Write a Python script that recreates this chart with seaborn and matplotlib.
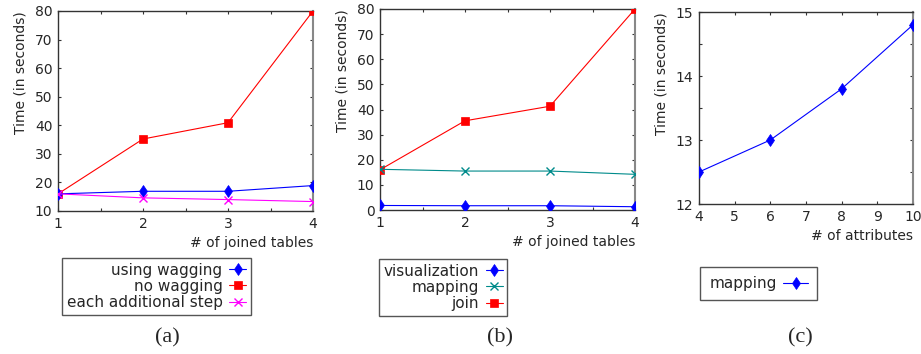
import matplotlib
matplotlib.use("Agg")
import matplotlib.pyplot as plt
import seaborn as sns
from matplotlib.ticker import MultipleLocator

# ---- data ----
tables = [1, 2, 3, 4]
a_using_wagging = [16.0, 16.9, 16.9, 18.9]
a_no_wagging = [16.0, 35.2, 40.9, 80.0]
a_each_step = [16.0, 14.6, 14.0, 13.3]

b_visualization = [1.8, 1.7, 1.7, 1.3]
b_mapping = [16.2, 15.5, 15.5, 14.2]
b_join = [16.0, 35.5, 41.3, 80.0]

attributes = [4, 6, 8, 10]
c_mapping = [12.5, 13.0, 13.8, 14.8]

panel_labels = ["(a)", "(b)", "(c)"]

sns.set_style("ticks")
plt.rcParams["font.family"] = ["DejaVu Sans"]

W, H = 921, 354
fig = plt.figure(figsize=(W / 100, H / 100), dpi=100)


def add_ax(l, t, r, b):
    return fig.add_axes([l / W, 1 - b / H, (r - l) / W, (b - t) / H])


def style_ax(ax, xlabel):
    for s in ["left", "bottom", "top"]:
        ax.spines[s].set_color("#333333")
        ax.spines[s].set_linewidth(1.0)
    ax.spines["right"].set_color("#888888")
    ax.spines["right"].set_linewidth(1.5)
    ax.tick_params(which="both", direction="in", top=True, right=True,
                   length=2.5, width=0.8, color="#333333", labelsize=10,
                   pad=4)
    ax.set_ylabel("Time (in seconds)", fontsize=10, labelpad=5, loc="top")
    ax.set_xlabel(xlabel, loc="right", fontsize=10, labelpad=4)


def legend_at(handles, labels, l, t, fs=11, hl=1.1, bp=0.3):
    leg = fig.legend(handles, labels, loc="upper left",
                     bbox_to_anchor=(l / W, 1 - t / H), borderaxespad=0,
                     markerfirst=False, fancybox=False, framealpha=1,
                     edgecolor="#555555", fontsize=fs, labelspacing=0.08,
                     handlelength=hl, handletextpad=0.45, borderpad=bp)
    leg.get_frame().set_linewidth(1.0)
    return leg


def line(ax, x, y, color, marker, ms, label, mew=0.5, z=3):
    sns.lineplot(x=x, y=y, ax=ax, color=color, marker=marker, markersize=ms,
                 markeredgewidth=mew, markeredgecolor=color,
                 markerfacecolor=color, linewidth=0.8, label=label,
                 zorder=z, errorbar=None)


def grab(ax):
    h, l = ax.get_legend_handles_labels()
    if ax.get_legend():
        ax.get_legend().remove()
    return h, l


# ---- panel (a) ----
axa = add_ax(58, 11, 313, 211)
line(axa, tables, a_using_wagging, "#0000ff", "d", 6, "using wagging", z=4)
line(axa, tables, a_no_wagging, "#ff0000", "s", 6, "no wagging", z=3)
line(axa, tables, a_each_step, "#ff00ff", "x", 6, "each additional step", mew=1.0, z=5)
ha, la = grab(axa)
axa.set_xlim(1, 4)
axa.set_ylim(10, 80)
axa.xaxis.set_major_locator(MultipleLocator(1))
axa.xaxis.set_minor_locator(MultipleLocator(0.5))
axa.yaxis.set_major_locator(MultipleLocator(10))
style_ax(axa, "# of joined tables")
legend_at(ha, la, 62, 258)

# ---- panel (b) ----
axb = add_ax(380, 9, 635, 210)
line(axb, tables, b_visualization, "#0000ff", "d", 6, "visualization", z=4)
line(axb, tables, b_mapping, "#008b8b", "x", 6, "mapping", mew=1.0, z=4)
line(axb, tables, b_join, "#ff0000", "s", 6, "join", z=3)
hb, lb = grab(axb)
axb.set_xlim(1, 4)
axb.set_ylim(0, 80)
axb.xaxis.set_major_locator(MultipleLocator(1))
axb.xaxis.set_minor_locator(MultipleLocator(0.5))
axb.yaxis.set_major_locator(MultipleLocator(10))
style_ax(axb, "# of joined tables")
legend_at(hb, lb, 379, 259)

# ---- panel (c) ----
axc = add_ax(699, 12, 913, 204)
line(axc, attributes, c_mapping, "#0000ff", "d", 12, "mapping", mew=1.2, z=4)
hc, lc = grab(axc)
axc.set_xlim(4, 10)
axc.set_ylim(12, 15)
axc.xaxis.set_major_locator(MultipleLocator(1))
axc.yaxis.set_major_locator(MultipleLocator(1))
axc.yaxis.set_minor_locator(MultipleLocator(0.5))
style_ax(axc, "# of attributes")
for ln in hc:
    ln.set_markersize(6)
    ln.set_markeredgewidth(0.5)
legend_at(hc, lc, 700, 267, hl=1.6, bp=0.6)

# ---- panel letters ----
for lab, xc in zip(panel_labels, [167, 500, 800]):
    fig.text(xc / W, 1 - 338 / H, lab, ha="center", va="center",
             family=["Liberation Serif"], fontsize=16)

fig.savefig("out.png", dpi=100)
